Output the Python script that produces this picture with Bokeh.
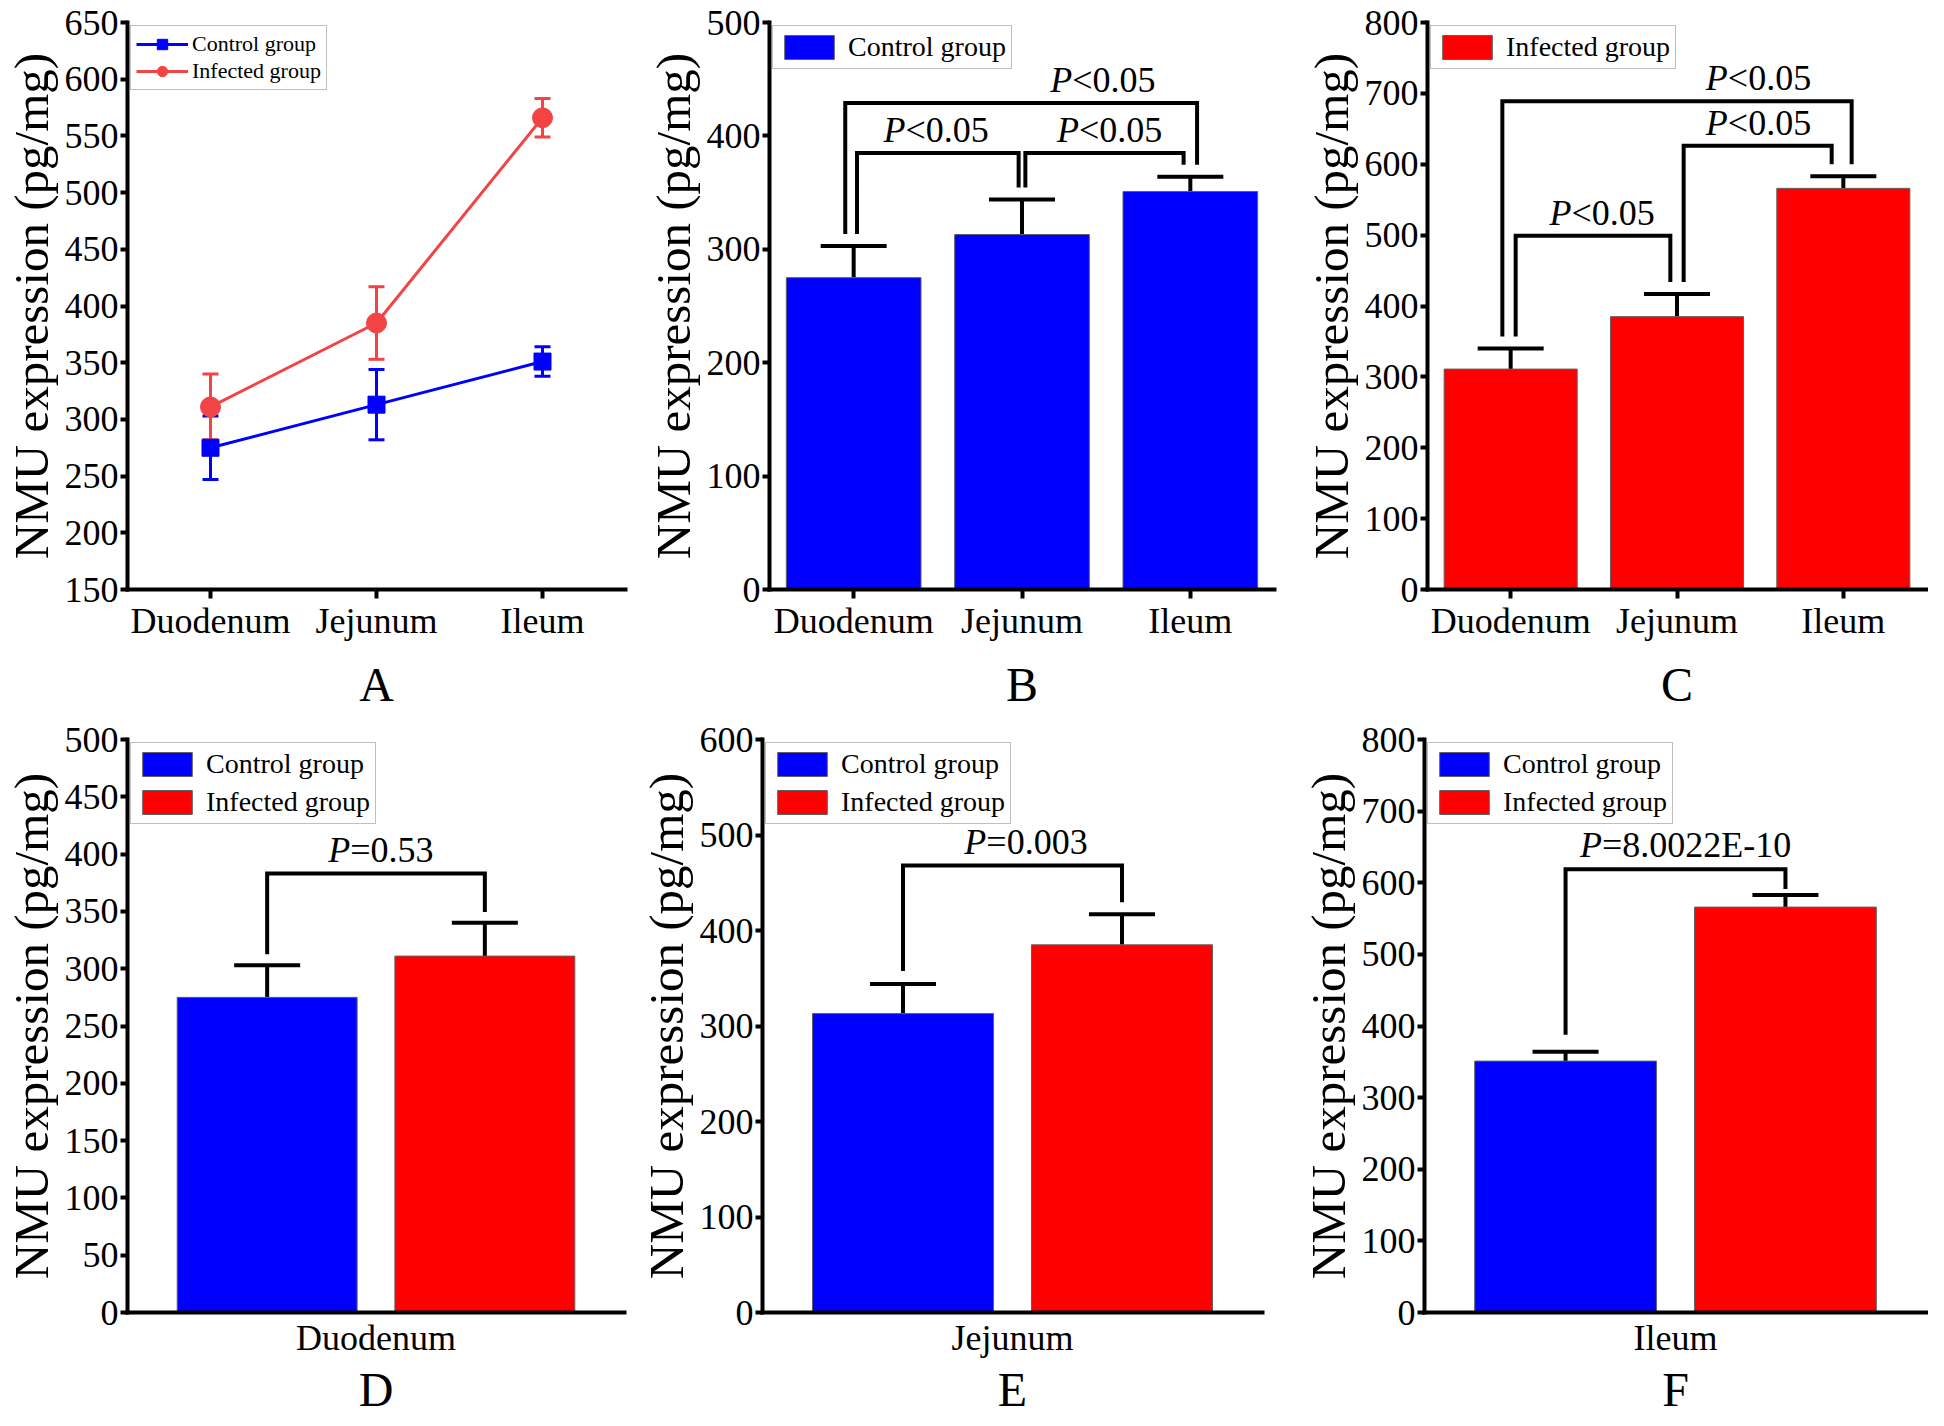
from bokeh.plotting import figure
from bokeh.models import (Range1d, FixedTicker, Whisker, TeeHead, Legend,
                          LegendItem, ColumnDataSource)
from bokeh.layouts import row, column
from bokeh.embed import file_html
from bokeh.resources import INLINE
from bokeh.core.properties import value

# ---------------- data ----------------
sites = ["Duodenum", "Jejunum", "Ileum"]
groups = ["Control group", "Infected group"]
control_mean = [275, 313, 351]
control_sd = [28, 31, 13]
infected_mean = [311, 385, 566]
infected_sd = [29, 32, 17]
panel_letters = ["A", "B", "C", "D", "E", "F"]
# pairwise comparisons within a group: (Duo-Jej), (Jej-Ile), (Duo-Ile)
pairs = [(0, 1), (1, 2), (0, 2)]
p_control = ["<0.05", "<0.05", "<0.05"]
p_infected = ["<0.05", "<0.05", "<0.05"]
# control vs infected per site
p_between = ["=0.53", "=0.003", "=8.0022E-10"]
yticks_A = [150, 200, 250, 300, 350, 400, 450, 500, 550, 600, 650]
yticks_B = [0, 100, 200, 300, 400, 500]
yticks_C = [0, 100, 200, 300, 400, 500, 600, 700, 800]
yticks_D = [0, 50, 100, 150, 200, 250, 300, 350, 400, 450, 500]
yticks_E = [0, 100, 200, 300, 400, 500, 600]
yticks_F = [0, 100, 200, 300, 400, 500, 600, 700, 800]

# ---------------- style / layout ----------------
FONT = "Liberation Serif"
BLUE = "#0000FF"
RED = "#FF0000"
LINE_RED = "#F24444"
BAR_EDGE = "#606060"
LEG_EDGE = "#7F7F7F"
CW = {"P": 0.611, "<": 0.564, "=": 0.564, ".": 0.25, "E": 0.611, "-": 0.333}

ROW1 = dict(height=717, mbt=22, mbb=128, letter_standoff=14, tick_standoff=2)
ROW2 = dict(height=701, mbt=22, mbb=105, letter_standoff=2, tick_standoff=5)


def base_fig(width, rowcfg, mbl, mbr, xr, yr, yticks, letter):
    p = figure(width=width, height=rowcfg["height"], x_range=Range1d(*xr),
               y_range=Range1d(*yr), output_backend="svg", toolbar_location=None,
               min_border_left=mbl, min_border_right=mbr,
               min_border_top=rowcfg["mbt"], min_border_bottom=rowcfg["mbb"])
    p.outline_line_color = None
    p.xgrid.visible = False
    p.ygrid.visible = False
    p.border_fill_color = "white"
    p.background_fill_color = "white"
    for ax in (p.xaxis[0], p.yaxis[0]):
        ax.axis_line_width = 4
        ax.axis_line_cap = "square"
        ax.axis_line_color = "black"
        ax.major_tick_line_width = 4
        ax.major_tick_line_color = "black"
        ax.major_tick_in = 0
        ax.minor_tick_line_color = None
        ax.major_label_text_font = FONT
        ax.major_label_text_font_size = "36px"
        ax.major_label_text_color = "black"
        ax.axis_label_text_font = FONT
        ax.axis_label_text_font_style = "normal"
        ax.axis_label_text_color = "black"
    y = p.yaxis[0]
    y.ticker = FixedTicker(ticks=yticks)
    y.major_tick_out = 7
    y.major_label_standoff = 2
    y.axis_label = "NMU expression (pg/mg)"
    y.axis_label_text_font_size = "49px"
    y.axis_label_standoff = 3
    x = p.xaxis[0]
    x.major_label_standoff = rowcfg["tick_standoff"]
    x.axis_label = letter
    x.axis_label_text_font_size = "48px"
    x.axis_label_standoff = rowcfg["letter_standoff"]
    return p


def frame_ppu(p, yr):
    fh = p.height - p.min_border_top - p.min_border_bottom
    return fh / (yr[1] - yr[0])


def ptext(p, x, y, rest, fs=36):
    wP = CW["P"] * fs
    wR = sum(CW.get(c, 0.5) for c in rest) * fs
    off = -(wP + wR) / 2 + wP
    p.text(x=[x], y=[y], text=["P"], text_font=value(FONT), text_font_style="italic",
           text_font_size=f"{fs}px", text_align="right", text_baseline="middle",
           x_offset=off, text_color="black")
    p.text(x=[x], y=[y], text=[rest], text_font=value(FONT), text_font_style="normal",
           text_font_size=f"{fs}px", text_align="left", text_baseline="middle",
           x_offset=off, text_color="black")


def bracket(p, x1, x2, yb1, yb2, top):
    p.line(x=[x1, x1, x2, x2], y=[yb1, top, top, yb2], line_width=4,
           line_color="black", line_join="miter")


def legend(p, items, fs, gw, gh, spacing, standoff, margin):
    lg = Legend(items=items, location="top_left", margin=margin, padding=5,
                spacing=spacing, glyph_width=gw, glyph_height=gh,
                label_standoff=standoff, label_text_font=FONT,
                label_text_font_size=fs, label_text_color="black",
                border_line_color=LEG_EDGE, border_line_width=1,
                background_fill_color="white", background_fill_alpha=1.0,
                label_height=gh)
    p.add_layout(lg)


def cat_xaxis(p):
    x = p.xaxis[0]
    x.ticker = FixedTicker(ticks=[0, 1, 2])
    x.major_label_overrides = {i: s for i, s in enumerate(sites)}
    x.major_tick_out = 9


xs = list(range(len(sites)))

# ---------------- Panel A (line chart) ----------------
yrA = (150, 650)
pA = base_fig(642, ROW1, 112, 17, (-0.5, 2.5), yrA, yticks_A, panel_letters[0])
cat_xaxis(pA)
rendA = []
for mean, sd, col, mk, sz in [(control_mean, control_sd, BLUE, "square", 17),
                              (infected_mean, infected_sd, LINE_RED, "circle", 20)]:
    src = ColumnDataSource(dict(x=xs, y=mean,
                                lo=[m - s for m, s in zip(mean, sd)],
                                hi=[m + s for m, s in zip(mean, sd)]))
    pA.add_layout(Whisker(base="x", upper="hi", lower="lo", source=src,
                          line_color=col, line_width=3,
                          upper_head=TeeHead(size=16, line_color=col, line_width=3),
                          lower_head=TeeHead(size=16, line_color=col, line_width=3)))
    r1 = pA.line("x", "y", source=src, line_color=col, line_width=3)
    r2 = pA.scatter("x", "y", source=src, marker=mk, size=sz, fill_color=col,
                    line_color=col)
    rendA.append([r1, r2])
legend(pA, [LegendItem(label=groups[0], renderers=rendA[0]),
            LegendItem(label=groups[1], renderers=rendA[1])],
       "22px", 52, 26, 1, 4, 3)


# ---------------- Panels B and C (within-group bars) ----------------
def group_panel(width, mbl, mbr, yr, yticks, letter, mean, sd, color, label,
                pvals, tops, label_x, leg_off, gap_px=12):
    p = base_fig(width, ROW1, mbl, mbr, (-0.5, 2.5), yr, yticks, letter)
    cat_xaxis(p)
    ppu = frame_ppu(p, yr)
    hi = [m + s for m, s in zip(mean, sd)]
    src = ColumnDataSource(dict(x=xs, top=mean, hi=hi))
    r = p.vbar(x="x", top="top", width=0.8, source=src, fill_color=color,
               line_color=BAR_EDGE, line_width=1)
    p.add_layout(Whisker(base="x", upper="hi", lower="top", source=src,
                         line_color="black", line_width=4, lower_head=None,
                         upper_head=TeeHead(size=66, line_color="black", line_width=4)))
    gap = gap_px / ppu
    for (i, j), pv, top, lx, (o1, o2) in zip(pairs, pvals, tops, label_x, leg_off):
        bracket(p, i + o1, j + o2, hi[i] + gap, hi[j] + gap, top)
        ptext(p, lx, top + 23 / ppu, pv)
    legend(p, [LegendItem(label=label, renderers=[r])], "28px", 62, 30, 6, 8, 3)
    return p


pB = group_panel(658, 118, 26, (0, 500), yticks_B, panel_letters[1],
                 control_mean, control_sd, BLUE, groups[0], p_control,
                 [385, 385, 429], [0.49, 1.52, 1.48],
                 [(0.02, -0.02), (0.02, -0.04), (-0.05, 0.04)])
pC = group_panel(628, 118, 2, (0, 800), yticks_C, panel_letters[2],
                 infected_mean, infected_sd, RED, groups[1], p_infected,
                 [499, 626, 689], [0.55, 1.49, 1.49],
                 [(0.03, -0.04), (0.04, -0.07), (-0.05, 0.05)])


# ---------------- Panels D, E, F (between-group bars per site) ----------------
def site_panel(k, width, mbl, mbr, yr, yticks, top, label_x, gaps_px):
    p = base_fig(width, ROW2, mbl, mbr, (0, 1), yr, yticks, panel_letters[3 + k])
    x = p.xaxis[0]
    x.ticker = FixedTicker(ticks=[0.5])
    x.major_label_overrides = {0.5: sites[k]}
    x.major_tick_out = 0
    x.major_tick_line_color = None
    ppu = frame_ppu(p, yr)
    half = 0.219
    bw = 0.362
    centers = [0.5 - half, 0.5 + half]
    means = [control_mean[k], infected_mean[k]]
    sds = [control_sd[k], infected_sd[k]]
    his = [m + s for m, s in zip(means, sds)]
    rs = []
    for c, m, hv, col in zip(centers, means, his, [BLUE, RED]):
        src = ColumnDataSource(dict(x=[c], top=[m], hi=[hv]))
        rs.append(p.vbar(x="x", top="top", width=bw, source=src, fill_color=col,
                         line_color=BAR_EDGE, line_width=1))
        p.add_layout(Whisker(base="x", upper="hi", lower="top", source=src,
                             line_color="black", line_width=4, lower_head=None,
                             upper_head=TeeHead(size=66, line_color="black", line_width=4)))
    bracket(p, centers[0], centers[1], his[0] + gaps_px[0] / ppu,
            his[1] + gaps_px[1] / ppu, top)
    ptext(p, label_x, top + 24 / ppu, p_between[k])
    legend(p, [LegendItem(label=groups[0], renderers=[rs[0]]),
               LegendItem(label=groups[1], renderers=[rs[1]])],
           "28px", 62, 30, 6, 8, 3)
    return p


pD = site_panel(0, 635, 112, 11, (0, 500), yticks_D, 383, 0.51, (11, 11))
pE = site_panel(1, 662, 118, 35, (0, 600), yticks_E, 468, 0.527, (13, 12))
pF = site_panel(2, 631, 118, 2, (0, 800), yticks_F, 619, 0.52, (17, 6))

layout = column(row(pA, pB, pC), row(pD, pE, pF))
open("out.html", "w").write(file_html(layout, INLINE))
